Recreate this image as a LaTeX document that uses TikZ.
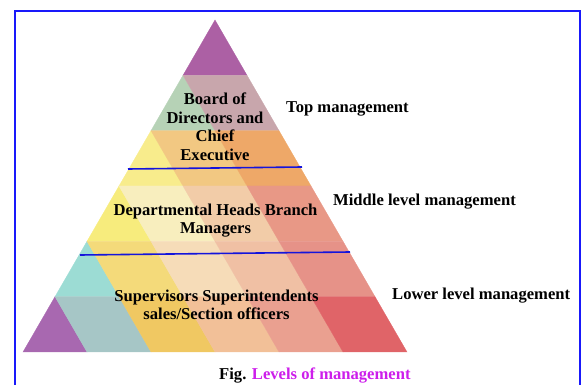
\documentclass[tikz,border=0pt]{standalone}
\usepackage{fontspec}
\setmainfont{Liberation Serif}
\definecolor{framebl}{RGB}{25,25,250}
\definecolor{linebl}{RGB}{20,20,220}
\definecolor{capmag}{RGB}{205,30,235}
% cell colours
\definecolor{cpurple}{RGB}{172,96,164}
\definecolor{cgreen}{RGB}{182,210,182}
\definecolor{cmauve}{RGB}{200,166,172}
\definecolor{cylw}{RGB}{248,236,140}
\definecolor{clor}{RGB}{242,200,130}
\definecolor{cor}{RGB}{238,168,104}
\definecolor{cyel}{RGB}{247,236,125}
\definecolor{ccream}{RGB}{248,238,190}
\definecolor{cpeach}{RGB}{242,204,168}
\definecolor{csalm}{RGB}{232,152,134}
\definecolor{ccyan}{RGB}{156,220,212}
\definecolor{cyor}{RGB}{244,218,122}
\definecolor{cppeach}{RGB}{246,220,184}
\definecolor{cpeach2}{RGB}{240,192,164}
\definecolor{csalm2}{RGB}{230,146,136}
\definecolor{cpurp2}{RGB}{168,104,176}
\definecolor{cgblue}{RGB}{166,198,198}
\definecolor{cyor2}{RGB}{240,200,98}
\definecolor{clor2}{RGB}{242,192,152}
\definecolor{csalm3}{RGB}{234,160,144}
\definecolor{cred}{RGB}{224,100,104}
% one cell of the triangular grid: row, cell, colour
\newcommand\pyrcell[3]{%
  \pgfmathsetmacro\pyrra{#1-1}%
  \ifnum#2=1
    \filldraw[fill=#3,draw=#3,line width=0.3pt]
      ({215-32*\pyrra},{20+55.333*\pyrra}) --
      ({215-32*#1},{20+55.333*#1}) --
      ({215-32*#1+64},{20+55.333*#1}) -- cycle;
  \else
    \pgfmathsetmacro\pyrm{#2-1}%
    \filldraw[fill=#3,draw=#3,line width=0.3pt]
      ({215-32*\pyrra+64*(\pyrm-1)},{20+55.333*\pyrra}) --
      ({215-32*#1+64*\pyrm},{20+55.333*#1}) --
      ({215-32*#1+64*(\pyrm+1)},{20+55.333*#1}) --
      ({215-32*\pyrra+64*\pyrm},{20+55.333*\pyrra}) -- cycle;
  \fi}
\begin{document}
\begin{tikzpicture}[x=1pt,y=-1pt,
  lbl/.style={font=\fontsize{16.6}{18.7}\selectfont\bfseries, inner sep=0pt},
  sepline/.style={draw=linebl, line width=1.6pt}]
\useasboundingbox (0,0) rectangle (584,385);
% frame (open at the bottom)
\draw[framebl, line width=2pt] (15,385) -- (15,11.5) -- (580,11.5) -- (580,385);
% pyramid cells
\pyrcell{1}{1}{cpurple}
\pyrcell{2}{1}{cgreen}\pyrcell{2}{2}{cmauve}
\pyrcell{3}{1}{cylw}\pyrcell{3}{2}{clor}\pyrcell{3}{3}{cor}
\pyrcell{4}{1}{cyel}\pyrcell{4}{2}{ccream}\pyrcell{4}{3}{cpeach}\pyrcell{4}{4}{csalm}
\pyrcell{5}{1}{ccyan}\pyrcell{5}{2}{cyor}\pyrcell{5}{3}{cppeach}\pyrcell{5}{4}{cpeach2}\pyrcell{5}{5}{csalm2}
\pyrcell{6}{1}{cpurp2}\pyrcell{6}{2}{cgblue}\pyrcell{6}{3}{cyor2}\pyrcell{6}{4}{clor2}\pyrcell{6}{5}{csalm3}\pyrcell{6}{6}{cred}
% separator lines
\coordinate (s1a) at (128,169);
\coordinate (s1b) at (302,167);
\coordinate (s2a) at (80,255);
\coordinate (s2b) at (350,252);
\draw[sepline] (s1a) -- (s1b);
\draw[sepline] (s2a) -- (s2b);
% texts inside pyramid
\node[lbl, align=center, anchor=north] (board) at (215,92.5)
  {Board of\\Directors and\\Chief\\Executive};
\node[lbl, align=center, anchor=north] (dept) at (215.5,203.5)
  {Departmental Heads Branch\\Managers};
\node[lbl, align=center, anchor=north] (sup) at (216.5,289.5)
  {Supervisors Superintendents\\sales/Section officers};
% level labels
\node[lbl, anchor=base west] (top) at (286,113) {Top management};
\node[lbl, anchor=base west] (mid) at (333,205) {Middle level management};
\node[lbl, anchor=base west] (low) at (392,299) {Lower level management};
% caption
\node[lbl, anchor=base west] (cap) at (219,379) {Fig. \textcolor{capmag}{Levels of management}};
\end{tikzpicture}
\end{document}
